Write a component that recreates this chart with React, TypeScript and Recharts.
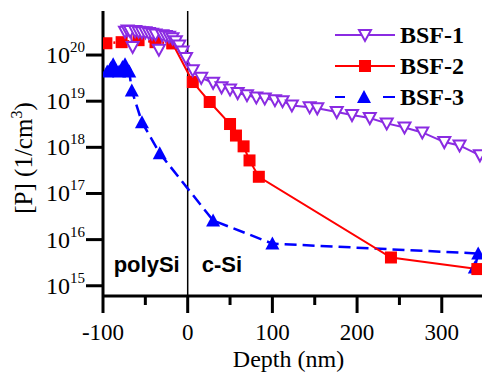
import { LineChart, Line, XAxis, YAxis, ReferenceLine, Legend } from 'recharts';

const SERIF = '"Liberation Serif", "Times New Roman", serif';
const SANS = '"Liberation Sans", Arial, sans-serif';

const PURPLE = '#8a2be2';
const RED = '#ff0000';
const BLUE = '#0000ff';

const depthTicks = [-100, -50, 0, 50, 100, 150, 200, 250, 300];
const concTicks = [1e15, 1e16, 1e17, 1e18, 1e19, 1e20];

// BSF-1 (open purple triangles)
const bsf1Depth = [
  -74, -71, -68, -65, -62, -58, -54, -50, -46, -42, -38, -34, -30, -26, -22, -18, -14, -10, -6, -2,
  6, 16, 30, 40, 50, 59, 70, 81, 91, 103, 112, 123, 144, 153, 176, 194, 215, 235, 256, 277, 303, 321, 345,
];
const bsf1Conc = [
  3.2e20, 3.4e20, 3.3e20, 1.5e20, 3.3e20, 3.2e20, 3.1e20, 3.1e20, 3.0e20, 2.9e20, 2.8e20, 1.3e20, 2.7e20,
  2.6e20, 2.5e20, 2.3e20, 2.0e20, 1.6e20, 1.2e20, 8.6e19,
  4.7e19, 3.2e19, 2.5e19, 2.0e19, 1.8e19, 1.5e19, 1.35e19, 1.2e19, 1.15e19, 1.05e19, 1.0e19, 8.1e18,
  7.4e18, 7.0e18, 5.8e18, 5.0e18, 4.3e18, 3.3e18, 2.7e18, 2.1e18, 1.3e18, 1.1e18, 6.7e17,
];

// BSF-2 (red squares) - dotted inside polySi, solid in c-Si
const bsf2PolyDepth = [-96, -78, -58, -38, -18];
const bsf2PolyConc = [1.8e20, 1.9e20, 2.1e20, 1.9e20, 1.8e20];
const bsf2Depth = [-18, 6, 26, 50, 57, 66, 73, 84, 240, 342];
const bsf2Conc = [1.8e20, 2.6e19, 9.6e18, 3.2e18, 1.8e18, 1.05e18, 5.2e17, 2.3e17, 4.1e15, 2.3e15];

// BSF-3 (blue filled triangles)
const bsf3Depth = [-95, -91, -88, -85, -81, -77, -74, -71, -69, -66, -54, -33, 30, 100, 343, 339];
const bsf3Conc = [
  4.4e19, 5.2e19, 6.3e19, 4.5e19, 4.4e19, 5.5e19, 6.3e19, 4.6e19, 4.4e19, 1.7e19, 3.5e18, 7.4e17, 2.6e16,
  8.2e15, 5.0e15, 2.5e15,
];

const toPoints = (xs: number[], ys: number[]) => xs.map((x, i) => ({ depth: x, conc: ys[i] }));

const bsf1 = toPoints(bsf1Depth, bsf1Conc);
const bsf2Poly = toPoints(bsf2PolyDepth, bsf2PolyConc);
const bsf2 = toPoints(bsf2Depth, bsf2Conc);
const bsf3 = toPoints(bsf3Depth, bsf3Conc);

function DownTriangle({ cx, cy }: any) {
  return (
    <path
      d={`M${cx - 6},${cy - 5} L${cx + 6},${cy - 5} L${cx},${cy + 6} Z`}
      fill="#fff"
      stroke={PURPLE}
      strokeWidth={2}
    />
  );
}

function Square({ cx, cy }: any) {
  return <rect x={cx - 6} y={cy - 6} width={12} height={12} fill={RED} />;
}

function UpTriangle({ cx, cy }: any) {
  return <path d={`M${cx - 7},${cy + 6} L${cx + 7},${cy + 6} L${cx},${cy - 7} Z`} fill={BLUE} />;
}

function DepthTick({ x, y, payload }: any) {
  const major = payload.value % 100 === 0;
  return (
    <g>
      <line x1={x} x2={x} y1={y} y2={y + (major ? 17 : 9)} stroke="#000" strokeWidth={3} />
      {major && (
        <text x={x} y={y + 44} textAnchor="middle" fontSize={23} fontFamily={SERIF} fill="#000">
          {payload.value}
        </text>
      )}
    </g>
  );
}

function PowerTick({ x, y, payload }: any) {
  const exp = Math.round(Math.log10(payload.value));
  return (
    <g>
      <line x1={x - 17} x2={x} y1={y} y2={y} stroke="#000" strokeWidth={3} />
      <text x={x - 18} y={y + 8} textAnchor="end" fontFamily={SERIF} fill="#000">
        <tspan fontSize={24}>10</tspan>
        <tspan fontSize={15} dy={-11}>
          {exp}
        </tspan>
      </text>
    </g>
  );
}

function YTitle({ viewBox }: any) {
  const cx = viewBox.x + 32;
  const cy = viewBox.y + 147;
  return (
    <text
      x={cx}
      y={cy}
      transform={`rotate(-90, ${cx}, ${cy})`}
      textAnchor="middle"
      fontSize={25}
      fontFamily={SERIF}
      fill="#000"
    >
      [P] (1/cm
      <tspan fontSize={16} dy={-10}>
        3
      </tspan>
      <tspan dy={10}>)</tspan>
    </text>
  );
}

function XTitle({ viewBox }: any) {
  return (
    <text
      x={viewBox.x + viewBox.width / 2 - 4}
      y={viewBox.y + 71}
      textAnchor="middle"
      fontSize={24}
      fontFamily={SERIF}
      fill="#000"
    >
      Depth (nm)
    </text>
  );
}

function RegionLabels({ viewBox }: any) {
  const bottom = viewBox.y + viewBox.height - 24;
  return (
    <g fontFamily={SANS} fontWeight="bold" fontSize={22} fill="#000">
      <text x={viewBox.x - 8} y={bottom} textAnchor="end">
        polySi
      </text>
      <text x={viewBox.x + 14} y={bottom} textAnchor="start">
        c-Si
      </text>
    </g>
  );
}

const legendItems = [
  { name: 'BSF-1', color: PURPLE, dash: undefined, marker: 'down' },
  { name: 'BSF-2', color: RED, dash: undefined, marker: 'square' },
  { name: 'BSF-3', color: BLUE, dash: '10 38 12 100', marker: 'up' },
];

function LegendBox() {
  return (
    <div>
      {legendItems.map((it) => (
        <div key={it.name} style={{ display: 'flex', alignItems: 'center', height: 31 }}>
          <svg width={60} height={20}>
            <line x1={0} x2={60} y1={10} y2={10} stroke={it.color} strokeWidth={2} strokeDasharray={it.dash} />
            {it.marker === 'down' && <DownTriangle cx={30} cy={10} />}
            {it.marker === 'square' && <Square cx={30} cy={10} />}
            {it.marker === 'up' && <UpTriangle cx={29} cy={10} />}
          </svg>
          <span
            style={{
              marginLeft: 5,
              fontFamily: SERIF,
              fontWeight: 'bold',
              fontSize: 24,
              color: '#000',
              lineHeight: '24px',
            }}
          >
            {it.name}
          </span>
        </div>
      ))}
    </div>
  );
}

export default function App() {
  return (
    <div style={{ position: 'absolute', left: 0, top: 0, width: 482, height: 372, background: '#fff' }}>
      <LineChart width={482} height={372} margin={{ top: 11, right: 0, bottom: 0, left: 0 }}>
        <XAxis
          xAxisId="top"
          orientation="top"
          type="number"
          domain={[-100, 347.5]}
          height={0}
          tick={false}
          tickLine={false}
          axisLine={{ stroke: '#000', strokeWidth: 3 }}
        />
        <XAxis
          dataKey="depth"
          type="number"
          domain={[-100, 347.5]}
          allowDataOverflow
          ticks={depthTicks}
          interval={0}
          height={76}
          tickSize={0}
          tickMargin={0}
          tickLine={false}
          tick={<DepthTick />}
          axisLine={{ stroke: '#000', strokeWidth: 3 }}
          label={{ content: <XTitle /> }}
        />
        <YAxis
          dataKey="conc"
          scale="log"
          domain={[6e14, 9e20]}
          allowDataOverflow
          ticks={concTicks}
          interval={0}
          width={103}
          tickSize={0}
          tickMargin={0}
          tickLine={false}
          tick={<PowerTick />}
          axisLine={{ stroke: '#000', strokeWidth: 3 }}
          label={{ content: <YTitle /> }}
        />
        <ReferenceLine x={0} stroke="#000" strokeWidth={1.5} label={{ content: <RegionLabels /> }} />
        <Legend
          layout="horizontal"
          verticalAlign="middle"
          align="center"
          content={() => <LegendBox />}
          wrapperStyle={{ top: 19, left: 335, right: 'auto', bottom: 'auto', width: 147, height: 93 }}
        />
        <Line
          data={bsf3}
          dataKey="conc"
          stroke={BLUE}
          strokeWidth={2.5}
          strokeDasharray="12 6"
          dot={(p: any) => <UpTriangle key={`b3-${p.index}`} cx={p.cx} cy={p.cy} />}
          legendType="none"
          isAnimationActive={false}
        />
        <Line
          data={bsf2Poly}
          dataKey="conc"
          stroke={RED}
          strokeWidth={2.5}
          strokeDasharray="2 5"
          dot={(p: any) => <Square key={`b2p-${p.index}`} cx={p.cx} cy={p.cy} />}
          legendType="none"
          isAnimationActive={false}
        />
        <Line
          data={bsf2}
          dataKey="conc"
          stroke={RED}
          strokeWidth={2}
          dot={(p: any) => <Square key={`b2-${p.index}`} cx={p.cx} cy={p.cy} />}
          legendType="none"
          isAnimationActive={false}
        />
        <Line
          data={bsf1}
          dataKey="conc"
          stroke={PURPLE}
          strokeWidth={2}
          dot={(p: any) => <DownTriangle key={`b1-${p.index}`} cx={p.cx} cy={p.cy} />}
          legendType="none"
          isAnimationActive={false}
        />
      </LineChart>
    </div>
  );
}
